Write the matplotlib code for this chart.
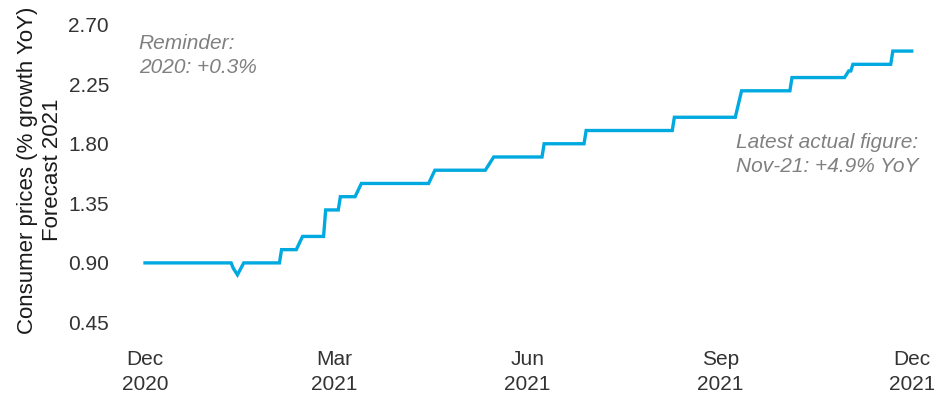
import matplotlib
matplotlib.use("Agg")
import matplotlib.pyplot as plt
import pandas as pd

# forecast for 2021 consumer prices, as published on each date
dates = ["2020-12-01", "2021-01-11", "2021-01-12", "2021-01-14", "2021-01-17",
         "2021-02-03", "2021-02-04", "2021-02-11", "2021-02-14", "2021-02-24",
         "2021-02-25", "2021-03-03", "2021-03-04", "2021-03-11", "2021-03-14",
         "2021-04-15", "2021-04-18", "2021-05-12", "2021-05-16", "2021-06-08",
         "2021-06-09", "2021-06-28", "2021-06-29", "2021-08-09", "2021-08-10",
         "2021-09-08", "2021-09-11", "2021-10-04", "2021-10-05", "2021-10-30",
         "2021-11-01", "2021-11-02", "2021-11-03", "2021-11-21", "2021-11-22",
         "2021-12-01"]
values = [0.90, 0.90, 0.86, 0.81, 0.90,
          0.90, 1.00, 1.00, 1.10, 1.10,
          1.30, 1.30, 1.40, 1.40, 1.50,
          1.50, 1.60, 1.60, 1.70, 1.70,
          1.80, 1.80, 1.90, 1.90, 2.00,
          2.00, 2.20, 2.20, 2.30, 2.30,
          2.35, 2.35, 2.40, 2.40, 2.50,
          2.50]
yticks = [0.45, 0.90, 1.35, 1.80, 2.25, 2.70]
xtick_dates = ["2020-12-01", "2021-03-01", "2021-06-01", "2021-09-01", "2021-12-01"]
xtick_labels = ["Dec\n2020", "Mar\n2021", "Jun\n2021", "Sep\n2021", "Dec\n2021"]

plt.rcParams["font.family"] = ["Liberation Sans", "DejaVu Sans"]

fig = plt.figure(figsize=(9.34, 3.93), dpi=100)
ax = fig.add_axes([0.1285, 0.135, 0.867, 0.827])

x = pd.to_datetime(dates)
ax.plot(x, values, color="#00A9E0", lw=2.4, solid_joinstyle="miter")

start = pd.Timestamp("2020-12-01")
ax.set_xlim(start - pd.Timedelta(days=11.9), start + pd.Timedelta(days=373.6))
ax.set_ylim(0.318, 2.773)

ax.set_yticks(yticks)
ax.set_yticklabels(["%.2f" % v for v in yticks])
ax.set_xticks(pd.to_datetime(xtick_dates))
ax.set_xticklabels(xtick_labels, linespacing=1.4)

ax.tick_params(axis="both", length=0, labelsize=15, colors="#333333")
ax.tick_params(axis="y", pad=8)
ax.tick_params(axis="x", pad=7)
for s in ax.spines.values():
    s.set_visible(False)

fig.text(40 / 934, 1 - 170 / 393, "Consumer prices (% growth YoY)\nForecast 2021",
         rotation=90, ha="center", va="center", multialignment="center",
         fontsize=16, color="#1a1a1a", linespacing=1.2)

ax.text(pd.Timestamp("2020-11-28"), 2.63, "Reminder:\n2020: +0.3%",
        ha="left", va="top", style="italic", fontsize=15, color="#808080",
        linespacing=1.35)
ax.text(pd.Timestamp("2021-12-04"), 1.88, "Latest actual figure:\nNov-21: +4.9% YoY",
        ha="right", va="top", style="italic", fontsize=15, color="#808080",
        linespacing=1.35)

fig.savefig("out.png", dpi=100)
